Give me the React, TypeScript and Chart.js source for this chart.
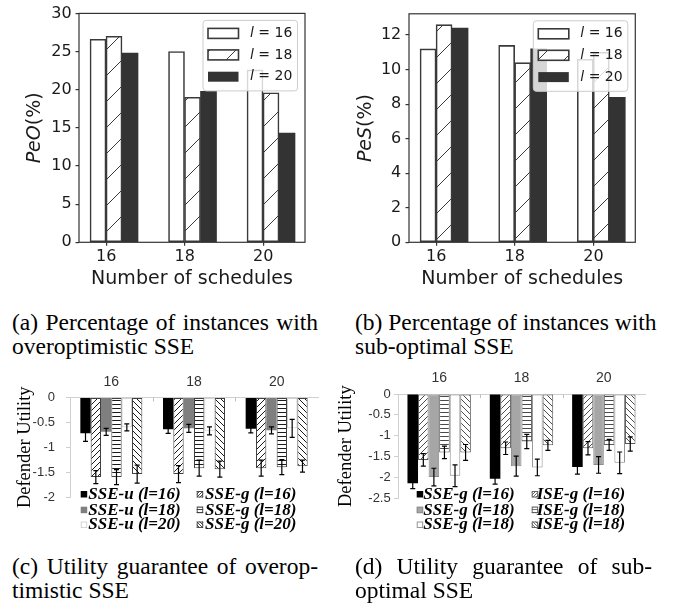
import React, { useEffect, useRef } from "react";
import { Chart, registerables } from "chart.js";

Chart.register(...registerables);

// ---------------- data ----------------
const schedules = [16, 18, 20];
const lValues = ["16", "18", "20"];

const peoL16 = [26.6, 25.0, 22.6];
const peoL18 = [27.0, 19.0, 19.6];
const peoL20 = [24.8, 19.8, 14.3];
const peoTicks = [0, 5, 10, 15, 20, 25, 30];

const pesL16 = [11.2, 11.4, 10.6];
const pesL18 = [12.6, 10.4, 11.0];
const pesL20 = [12.4, 11.2, 8.4];
const pesTicks = [0, 2, 4, 6, 8, 10, 12];

const utilCategories = ["16", "18", "20"];
const utilTicksC = [0, -0.5, -1, -1.5, -2];
const utilTicksD = [0, -0.5, -1, -1.5, -2, -2.5];

const cLegend = ["SSE-u (l=16)", "SSE-g (l=16)", "SSE-u (l=18)", "SSE-g (l=18)", "SSE-u (l=20)", "SSE-g (l=20)"];
const cSseU16 = [-0.72, -0.64, -0.63];
const cSseG16 = [-1.6, -1.54, -1.42];
const cSseU18 = [-0.69, -0.62, -0.66];
const cSseG18 = [-1.6, -1.42, -1.4];
const cSseU20 = [-0.6, -0.67, -0.62];
const cSseG20 = [-1.54, -1.44, -1.38];
const cErrU16 = [0.16, 0.08, 0.08];
const cErrG16 = [0.13, 0.17, 0.16];
const cErrU18 = [0.07, 0.08, 0.07];
const cErrG18 = [0.15, 0.16, 0.15];
const cErrU20 = [0.07, 0.08, 0.18];
const cErrG20 = [0.18, 0.16, 0.12];

const dLegend = ["SSE-g (l=16)", "ISE-g (l=16)", "SSE-g (l=18)", "ISE-g (l=18)", "SSE-g (l=18)", "ISE-g (l=18)"];
const dSseG16 = [-2.14, -2.03, -1.75];
const dIseG16 = [-1.58, -1.3, -1.3];
const dSseG18 = [-1.99, -1.73, -1.7];
const dIseG18 = [-1.4, -1.14, -1.22];
const dSseG18b = [-1.96, -1.76, -1.65];
const dIseG18b = [-1.4, -1.23, -1.2];
const dErrSseG16 = [0.13, 0.13, 0.17];
const dErrIseG16 = [0.15, 0.15, 0.16];
const dErrSseG18 = [0.21, 0.24, 0.2];
const dErrIseG18 = [0.15, 0.17, 0.13];
const dErrSseG18b = [0.26, 0.2, 0.26];
const dErrIseG18b = [0.19, 0.12, 0.17];

const captionA = ["(a) Percentage of instances with", "overoptimistic SSE"];
const captionB = ["(b) Percentage of instances with", "sub-optimal SSE"];
const captionC = ["(c) Utility guarantee of overop-", "timistic SSE"];
const captionD = ["(d) Utility guarantee of sub-", "optimal SSE"];

// ---------------- styling ----------------
const SANS = "'DejaVu Sans', sans-serif";
const SERIF = "'Liberation Serif', 'Times New Roman', serif";
const XLSANS = "'Liberation Sans', Arial, sans-serif";
const EDGE = "#3a3a3a";
const TXT = "#1a1a1a";

function makeHatch(ctx: CanvasRenderingContext2D, kind: string, size: number, color: string, lw: number) {
  const c = document.createElement("canvas");
  c.width = size;
  c.height = size;
  const g = c.getContext("2d")!;
  g.fillStyle = "#ffffff";
  g.fillRect(0, 0, size, size);
  g.strokeStyle = color;
  g.lineWidth = lw;
  g.beginPath();
  if (kind === "up") {
    for (const o of [-size, 0, size]) {
      g.moveTo(o, size);
      g.lineTo(o + size, 0);
    }
  } else if (kind === "down") {
    for (const o of [-size, 0, size]) {
      g.moveTo(o, 0);
      g.lineTo(o + size, size);
    }
  } else {
    const y = Math.floor(size / 2) + 0.5;
    g.moveTo(0, y);
    g.lineTo(size, y);
  }
  g.stroke();
  return ctx.createPattern(c, "repeat")!;
}

// ---------- top charts (a), (b) ----------
function topDecor(yMain: string, yTitleX: number) {
  return {
    id: "topDecor",
    afterDraw(chart: any) {
      const { ctx, chartArea: ca } = chart;
      ctx.save();
      ctx.strokeStyle = "#333";
      ctx.lineWidth = 1.2;
      ctx.strokeRect(ca.left, ca.top, ca.right - ca.left, ca.bottom - ca.top);

      // y title: italic main + upright (%)
      ctx.save();
      ctx.translate(yTitleX, (ca.top + ca.bottom) / 2);
      ctx.rotate(-Math.PI / 2);
      ctx.fillStyle = TXT;
      ctx.textBaseline = "middle";
      ctx.textAlign = "left";
      const fI = `italic 19px ${SANS}`;
      const fN = `19px ${SANS}`;
      ctx.font = fI;
      const w1 = ctx.measureText(yMain).width;
      ctx.font = fN;
      const w2 = ctx.measureText("(%)").width;
      const x0 = -(w1 + w2) / 2;
      ctx.font = fI;
      ctx.fillText(yMain, x0, 0);
      ctx.font = fN;
      ctx.fillText("(%)", x0 + w1, 0);
      ctx.restore();

      // legend
      const bw = 94.5;
      const bh = 70.5;
      const bx = ca.right - 7.5 - bw;
      const by = ca.top + 7;
      ctx.beginPath();
      if ((ctx as any).roundRect) (ctx as any).roundRect(bx, by, bw, bh, 3);
      else ctx.rect(bx, by, bw, bh);
      ctx.fillStyle = "rgba(255,255,255,0.8)";
      ctx.fill();
      ctx.strokeStyle = "#cccccc";
      ctx.lineWidth = 1;
      ctx.stroke();
      const rows = [13, 34.5, 56.3];
      chart.data.datasets.forEach((ds: any, k: number) => {
        const cy = by + rows[k];
        const hx = bx + 5;
        const hw = 30.5;
        const hh = 10;
        ctx.fillStyle = ds.backgroundColor;
        ctx.fillRect(hx, cy - hh / 2, hw, hh);
        if (ds.borderWidth) {
          ctx.strokeStyle = ds.borderColor;
          ctx.lineWidth = ds.borderWidth;
          ctx.strokeRect(hx, cy - hh / 2, hw, hh);
        }
        const tx = bx + 47;
        ctx.fillStyle = TXT;
        ctx.textBaseline = "middle";
        ctx.textAlign = "left";
        ctx.font = `italic 14px ${SANS}`;
        ctx.fillText("l", tx, cy);
        const lw = ctx.measureText("l").width;
        ctx.font = `14px ${SANS}`;
        ctx.fillText(" = " + ds.label, tx + lw, cy);
      });
      ctx.restore();
    },
  };
}

function buildTop(
  ctx: CanvasRenderingContext2D,
  series: number[][],
  yMax: number,
  yTicks: number[],
  yMain: string,
  L: { yWidth: number; yTitleX: number; padRight: number; padTop: number; yPad: number }
) {
  const hatch = makeHatch(ctx, "up", 26, EDGE, 1);
  const fills = ["#ffffff", hatch, "#333333"];
  const borders = [EDGE, EDGE, "#333333"];
  const bws = [1.6, 1.6, 0];
  const datasets = series.map((vals, k) => ({
    label: lValues[k],
    data: schedules.map((s, i) => ({ x: s, y: vals[i] })),
    backgroundColor: fills[k],
    borderColor: borders[k],
    borderWidth: bws[k],
    borderSkipped: false,
    barThickness: 16,
    xAxisID: "x",
    yAxisID: "y",
  }));
  const xMin = 15.108;
  const xMax = 20.866;
  return {
    type: "bar",
    data: { datasets },
    options: {
      animation: false,
      responsive: false,
      maintainAspectRatio: false,
      layout: { padding: { left: 0, right: L.padRight, top: L.padTop, bottom: 0 } },
      plugins: { legend: { display: false }, tooltip: { enabled: false } },
      scales: {
        x: { type: "linear", display: false, min: xMin, max: xMax, offset: false, grid: { offset: false } },
        x2: {
          type: "linear",
          position: "bottom",
          min: xMin + 0.2,
          max: xMax + 0.2,
          offset: false,
          afterBuildTicks: (s: any) => {
            s.ticks = schedules.map((v) => ({ value: v }));
          },
          ticks: { font: { family: SANS, size: 16 }, color: TXT, padding: 1.3, maxRotation: 0, autoSkip: false, callback: (v: any) => String(v) },
          grid: { display: true, offset: false, drawOnChartArea: false, drawTicks: true, tickLength: 3.5, color: "#333", lineWidth: 1.2 },
          border: { display: false },
          title: { display: true, text: "Number of schedules", font: { family: SANS, size: 19 }, color: TXT, padding: { top: 0, bottom: 9.3 } },
          afterFit: (s: any) => {
            s.height = 300 - 242.3 - 0;
          },
        },
        y: {
          type: "linear",
          min: 0,
          max: yMax,
          afterBuildTicks: (s: any) => {
            s.ticks = yTicks.map((v) => ({ value: v }));
          },
          ticks: { font: { family: SANS, size: 16 }, color: TXT, padding: L.yPad, callback: (v: any) => String(v) },
          grid: { display: true, drawOnChartArea: false, drawTicks: true, tickLength: 3.5, color: "#333", lineWidth: 1.2 },
          border: { display: false },
          afterFit: (s: any) => {
            s.width = L.yWidth;
          },
        },
      },
    },
    plugins: [topDecor(yMain, L.yTitleX)],
  };
}

// ---------- bottom charts (c), (d) ----------
function utilDecor(L: { markX: number[]; textX: number[]; rows: number[] }) {
  return {
    id: "utilDecor",
    afterDatasetsDraw(chart: any) {
      const { ctx, chartArea: ca } = chart;
      const y = chart.scales.y;
      ctx.save();
      ctx.strokeStyle = "#000";
      ctx.lineWidth = 1.2;
      chart.data.datasets.forEach((ds: any, di: number) => {
        const meta = chart.getDatasetMeta(di);
        meta.data.forEach((bar: any, i: number) => {
          const v = ds.data[i];
          const e = ds.errors[i];
          const x = bar.x;
          const y1 = y.getPixelForValue(v + e);
          const y2 = y.getPixelForValue(v - e);
          ctx.beginPath();
          ctx.moveTo(x, y1);
          ctx.lineTo(x, y2);
          ctx.moveTo(x - 2.5, y1);
          ctx.lineTo(x + 2.5, y1);
          ctx.moveTo(x - 2.5, y2);
          ctx.lineTo(x + 2.5, y2);
          ctx.stroke();
        });
      });
      // category boundary tick marks on the 0 axis
      ctx.strokeStyle = "#bfbfbf";
      ctx.lineWidth = 1;
      const n = chart.data.labels.length;
      const w = (ca.right - ca.left) / n;
      for (let k = 1; k < n; k++) {
        const x = Math.round(ca.left + k * w) + 0.5;
        ctx.beginPath();
        ctx.moveTo(x, ca.top);
        ctx.lineTo(x, ca.top + 4);
        ctx.stroke();
      }
      ctx.restore();
    },
    afterDraw(chart: any) {
      const { ctx } = chart;
      ctx.save();
      chart.data.datasets.forEach((ds: any, i: number) => {
        const r = Math.floor(i / 2);
        const c = i % 2;
        const cy = L.rows[r];
        const mx = L.markX[c];
        ctx.fillStyle = ds.legendFill || ds.backgroundColor;
        ctx.fillRect(mx, cy - 3.5, 6.5, 6.5);
        if (ds.borderWidth) {
          ctx.strokeStyle = ds.borderColor;
          ctx.lineWidth = 0.9;
          ctx.strokeRect(mx + 0.5, cy - 3, 5.5, 5.5);
        }
        ctx.fillStyle = "#000";
        ctx.textBaseline = "middle";
        ctx.textAlign = "left";
        ctx.font = `italic bold 17px ${SERIF}`;
        ctx.fillText(ds.label, L.textX[c], cy);
      });
      ctx.restore();
    },
  };
}

function buildUtil(
  ctx: CanvasRenderingContext2D,
  series: number[][],
  errors: number[][],
  labels: string[],
  variant: "c" | "d",
  yMin: number,
  yTicks: number[],
  L: any
) {
  const lineCol = variant === "c" ? "#1a1a1a" : "#4a4a4a";
  const up = makeHatch(ctx, "up", 6, lineCol, 1);
  const down = makeHatch(ctx, "down", 6, lineCol, 1);
  const horiz = makeHatch(ctx, "horiz", 4, lineCol, 1);
  const upS = makeHatch(ctx, "up", 3, lineCol, 0.8);
  const downS = makeHatch(ctx, "down", 3, lineCol, 0.8);
  const horizS = makeHatch(ctx, "horiz", 3, lineCol, 0.8);
  const gray = variant === "c" ? "#7f7f7f" : "#a6a6a6";
  const fills = ["#000000", up, gray, horiz, "#ffffff", down];
  const lfills = ["#000000", upS, gray, horizS, "#ffffff", downS];
  const borders =
    variant === "c"
      ? ["#000", "#404040", "#7f7f7f", "#404040", "#d0d0d0", "#404040"]
      : ["#000", "#5a5a5a", "#8c8c8c", "#5a5a5a", "#8c8c8c", "#5a5a5a"];
  const bws = variant === "c" ? [0, 1, 0, 1, 1, 1] : [0, 1, 1, 1, 1, 1];
  const datasets = series.map((vals, k) => ({
    label: labels[k],
    data: vals,
    errors: errors[k],
    backgroundColor: fills[k],
    legendFill: lfills[k],
    borderColor: borders[k],
    borderWidth: bws[k],
    borderSkipped: false,
    barPercentage: 1,
    categoryPercentage: L.catPct,
  }));
  return {
    type: "bar",
    data: { labels: utilCategories, datasets },
    options: {
      animation: false,
      responsive: false,
      maintainAspectRatio: false,
      layout: { padding: { left: 0, right: L.padRight, top: 0, bottom: L.padBottom } },
      plugins: { legend: { display: false }, tooltip: { enabled: false } },
      scales: {
        x: {
          type: "category",
          position: "top",
          offset: true,
          ticks: { font: { family: XLSANS, size: 14 }, color: "#333", padding: L.xPad, maxRotation: 0 },
          grid: { display: false, drawTicks: false, drawOnChartArea: false },
          border: { display: true, color: "#d0d0d0", width: 1 },
          afterFit: (s: any) => {
            s.height = L.xHeight;
          },
        },
        y: {
          type: "linear",
          min: yMin,
          max: 0,
          afterBuildTicks: (s: any) => {
            s.ticks = yTicks.map((v) => ({ value: v }));
          },
          ticks: { font: { family: XLSANS, size: 13 }, color: "#333", padding: L.yPad, callback: (v: any) => String(v) },
          grid: { display: true, drawOnChartArea: false, drawTicks: true, tickLength: 4, color: "#d0d0d0" },
          border: { display: true, color: "#d0d0d0", width: 1 },
          title: {
            display: true,
            text: "Defender Utility",
            font: { family: SERIF, size: 18.5 },
            color: "#000",
            padding: { top: L.titlePad, bottom: 0 },
          },
          afterFit: (s: any) => {
            s.width = L.yWidth;
          },
        },
      },
    },
    plugins: [utilDecor(L)],
  };
}

// ---------------- components ----------------
function ChartBox(props: { left: number; top: number; width: number; height: number; build: (ctx: CanvasRenderingContext2D) => any }) {
  const ref = useRef<HTMLCanvasElement>(null);
  useEffect(() => {
    const canvas = ref.current!;
    const ctx = canvas.getContext("2d")!;
    const chart = new Chart(ctx, props.build(ctx));
    return () => chart.destroy();
  }, []);
  return (
    <canvas
      ref={ref}
      width={props.width}
      height={props.height}
      style={{ position: "absolute", left: props.left, top: props.top, width: props.width, height: props.height }}
    />
  );
}

function Caption(props: { left: number; top: number; width: number; lines: string[] }) {
  return (
    <div
      style={{
        position: "absolute",
        left: props.left,
        top: props.top,
        width: props.width,
        fontFamily: SERIF,
        fontSize: 23.5,
        lineHeight: "24.5px",
        color: "#000",
      }}
    >
      <div style={{ textAlign: "justify", textAlignLast: "justify", whiteSpace: "nowrap" }}>{props.lines[0]}</div>
      <div style={{ whiteSpace: "nowrap" }}>{props.lines[1]}</div>
    </div>
  );
}

export default function App() {
  return (
    <div style={{ position: "absolute", left: 0, top: 0, width: 678, height: 604, background: "#fff", overflow: "hidden" }}>
      <ChartBox
        left={0}
        top={0}
        width={338}
        height={300}
        build={(ctx) =>
          buildTop(ctx, [peoL16, peoL18, peoL20], 30, peoTicks, "PeO", {
            yWidth: 79,
            yTitleX: 35.5,
            padRight: 33,
            padTop: 12.7,
            yPad: 3.8,
          })
        }
      />
      <ChartBox
        left={338}
        top={0}
        width={340}
        height={300}
        build={(ctx) =>
          buildTop(ctx, [pesL16, pesL18, pesL20], 13.23, pesTicks, "PeS", {
            yWidth: 71,
            yTitleX: 28,
            padRight: 42.7,
            padTop: 10,
            yPad: 4.2,
          })
        }
      />
      <Caption left={12} top={309.5} width={306} lines={captionA} />
      <Caption left={355} top={309.5} width={297} lines={captionB} />
      <ChartBox
        left={0}
        top={370}
        width={338}
        height={175}
        build={(ctx) =>
          buildUtil(
            ctx,
            [cSseU16, cSseG16, cSseU18, cSseG18, cSseU20, cSseG20],
            [cErrU16, cErrG16, cErrU18, cErrG18, cErrU20, cErrG20],
            cLegend,
            "c",
            -2,
            utilTicksC,
            {
              catPct: 0.75,
              padRight: 20,
              padBottom: 48,
              xHeight: 27.5,
              xPad: 7.1,
              yWidth: 70,
              yPad: 11,
              titlePad: 13.9,
              markX: [80.7, 196.7],
              textX: [88.3, 205],
              rows: [124.5, 140.2, 155],
            }
          )
        }
      />
      <ChartBox
        left={330}
        top={370}
        width={340}
        height={175}
        build={(ctx) =>
          buildUtil(
            ctx,
            [dSseG16, dIseG16, dSseG18, dIseG18, dSseG18b, dIseG18b],
            [dErrSseG16, dErrIseG16, dErrSseG18, dErrIseG18, dErrSseG18b, dErrIseG18b],
            dLegend,
            "d",
            -2.5,
            utilTicksD,
            {
              catPct: 0.77,
              padRight: 25,
              padBottom: 46.7,
              xHeight: 24,
              xPad: 7.3,
              yWidth: 68,
              yPad: 3.3,
              titlePad: 5.2,
              markX: [86.7, 201.7],
              textX: [93.3, 206.7],
              rows: [124.5, 140.2, 155],
            }
          )
        }
      />
      <Caption left={12} top={553.5} width={306} lines={captionC} />
      <Caption left={355} top={553.5} width={297} lines={captionD} />
    </div>
  );
}
